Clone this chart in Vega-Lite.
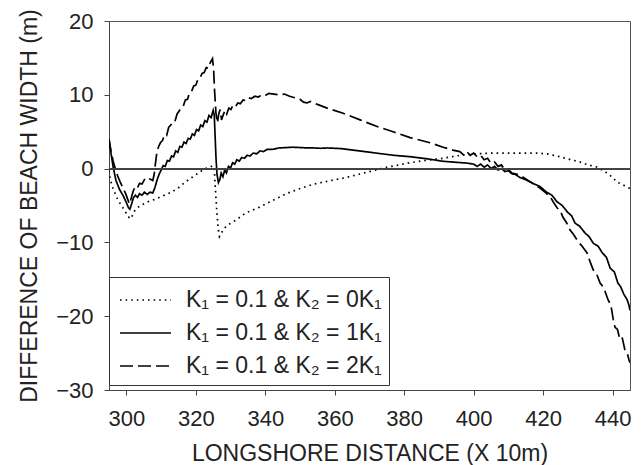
{
  "$schema": "https://vega.github.io/schema/vega-lite/v6.json",
  "width": 521,
  "height": 369,
  "autosize": {"type": "none"},
  "padding": {"left": 109, "top": 21, "right": 13, "bottom": 75},
  "background": "white",
  "config": {
    "font": "Liberation Sans",
    "view": {"stroke": "#555", "strokeWidth": 1},
    "axis": {
      "grid": false,
      "domainColor": "#444",
      "tickColor": "#444",
      "labelColor": "#222",
      "titleColor": "#222",
      "labelFontSize": 22,
      "titleFontSize": 23,
      "titleFontWeight": "normal",
      "labelFont": "Liberation Sans",
      "titleFont": "Liberation Sans"
    },
    "legend": {
      "orient": "none",
      "legendX": 0,
      "legendY": 256,
      "fillColor": "white",
      "strokeColor": "#333",
      "padding": 7,
      "labelFontSize": 23,
      "labelFont": "Liberation Sans",
      "labelColor": "#222",
      "labelLimit": 400,
      "symbolType": "M-0.8,0H2.6",
      "symbolSize": 900,
      "symbolStrokeWidth": 1.6,
      "symbolStrokeColor": "black",
      "symbolFillColor": "transparent",
      "rowPadding": 5,
      "labelOffset": 38,
      "symbolOffset": 0
    }
  },
  "data": {
    "values": [
      {"s": "K₁ = 0.1 & K₂ = 0K₁", "x": 295.0, "y": -0.3},
      {"s": "K₁ = 0.1 & K₂ = 0K₁", "x": 295.4, "y": -1.5},
      {"s": "K₁ = 0.1 & K₂ = 0K₁", "x": 296.0, "y": -2.5},
      {"s": "K₁ = 0.1 & K₂ = 0K₁", "x": 296.7, "y": -3.3},
      {"s": "K₁ = 0.1 & K₂ = 0K₁", "x": 297.5, "y": -4.2},
      {"s": "K₁ = 0.1 & K₂ = 0K₁", "x": 298.3, "y": -4.8},
      {"s": "K₁ = 0.1 & K₂ = 0K₁", "x": 299.0, "y": -5.3},
      {"s": "K₁ = 0.1 & K₂ = 0K₁", "x": 299.8, "y": -5.9},
      {"s": "K₁ = 0.1 & K₂ = 0K₁", "x": 300.5, "y": -6.5},
      {"s": "K₁ = 0.1 & K₂ = 0K₁", "x": 301.2, "y": -6.8},
      {"s": "K₁ = 0.1 & K₂ = 0K₁", "x": 301.8, "y": -6.3},
      {"s": "K₁ = 0.1 & K₂ = 0K₁", "x": 302.5, "y": -5.6},
      {"s": "K₁ = 0.1 & K₂ = 0K₁", "x": 303.5, "y": -5.2},
      {"s": "K₁ = 0.1 & K₂ = 0K₁", "x": 304.5, "y": -4.9},
      {"s": "K₁ = 0.1 & K₂ = 0K₁", "x": 306.2, "y": -4.5},
      {"s": "K₁ = 0.1 & K₂ = 0K₁", "x": 308.0, "y": -4.2},
      {"s": "K₁ = 0.1 & K₂ = 0K₁", "x": 310.0, "y": -3.8},
      {"s": "K₁ = 0.1 & K₂ = 0K₁", "x": 313.0, "y": -3.2},
      {"s": "K₁ = 0.1 & K₂ = 0K₁", "x": 315.0, "y": -2.6},
      {"s": "K₁ = 0.1 & K₂ = 0K₁", "x": 317.0, "y": -1.8},
      {"s": "K₁ = 0.1 & K₂ = 0K₁", "x": 319.8, "y": -0.9},
      {"s": "K₁ = 0.1 & K₂ = 0K₁", "x": 322.6, "y": 0.0},
      {"s": "K₁ = 0.1 & K₂ = 0K₁", "x": 324.0, "y": 0.2},
      {"s": "K₁ = 0.1 & K₂ = 0K₁", "x": 324.8, "y": 0.4},
      {"s": "K₁ = 0.1 & K₂ = 0K₁", "x": 325.3, "y": 0.1},
      {"s": "K₁ = 0.1 & K₂ = 0K₁", "x": 325.6, "y": -2.5},
      {"s": "K₁ = 0.1 & K₂ = 0K₁", "x": 326.0, "y": -5.5},
      {"s": "K₁ = 0.1 & K₂ = 0K₁", "x": 326.4, "y": -8.0},
      {"s": "K₁ = 0.1 & K₂ = 0K₁", "x": 326.8, "y": -9.2},
      {"s": "K₁ = 0.1 & K₂ = 0K₁", "x": 327.2, "y": -8.8},
      {"s": "K₁ = 0.1 & K₂ = 0K₁", "x": 327.8, "y": -8.4},
      {"s": "K₁ = 0.1 & K₂ = 0K₁", "x": 328.6, "y": -7.9},
      {"s": "K₁ = 0.1 & K₂ = 0K₁", "x": 330.0, "y": -7.4},
      {"s": "K₁ = 0.1 & K₂ = 0K₁", "x": 331.5, "y": -7.0},
      {"s": "K₁ = 0.1 & K₂ = 0K₁", "x": 334.4, "y": -6.0},
      {"s": "K₁ = 0.1 & K₂ = 0K₁", "x": 338.5, "y": -5.2},
      {"s": "K₁ = 0.1 & K₂ = 0K₁", "x": 342.2, "y": -4.3},
      {"s": "K₁ = 0.1 & K₂ = 0K₁", "x": 346.0, "y": -3.4},
      {"s": "K₁ = 0.1 & K₂ = 0K₁", "x": 350.0, "y": -2.7},
      {"s": "K₁ = 0.1 & K₂ = 0K₁", "x": 354.0, "y": -2.1},
      {"s": "K₁ = 0.1 & K₂ = 0K₁", "x": 358.0, "y": -1.7},
      {"s": "K₁ = 0.1 & K₂ = 0K₁", "x": 362.4, "y": -1.3},
      {"s": "K₁ = 0.1 & K₂ = 0K₁", "x": 369.3, "y": -0.5},
      {"s": "K₁ = 0.1 & K₂ = 0K₁", "x": 375.1, "y": 0.2},
      {"s": "K₁ = 0.1 & K₂ = 0K₁", "x": 381.7, "y": 0.8},
      {"s": "K₁ = 0.1 & K₂ = 0K₁", "x": 386.0, "y": 1.1},
      {"s": "K₁ = 0.1 & K₂ = 0K₁", "x": 391.2, "y": 1.4},
      {"s": "K₁ = 0.1 & K₂ = 0K₁", "x": 396.1, "y": 1.8},
      {"s": "K₁ = 0.1 & K₂ = 0K₁", "x": 401.0, "y": 2.0},
      {"s": "K₁ = 0.1 & K₂ = 0K₁", "x": 405.6, "y": 2.1},
      {"s": "K₁ = 0.1 & K₂ = 0K₁", "x": 410.5, "y": 2.1},
      {"s": "K₁ = 0.1 & K₂ = 0K₁", "x": 414.2, "y": 2.1},
      {"s": "K₁ = 0.1 & K₂ = 0K₁", "x": 418.0, "y": 2.1},
      {"s": "K₁ = 0.1 & K₂ = 0K₁", "x": 421.1, "y": 2.0},
      {"s": "K₁ = 0.1 & K₂ = 0K₁", "x": 424.9, "y": 1.6},
      {"s": "K₁ = 0.1 & K₂ = 0K₁", "x": 428.0, "y": 1.2},
      {"s": "K₁ = 0.1 & K₂ = 0K₁", "x": 430.6, "y": 0.9},
      {"s": "K₁ = 0.1 & K₂ = 0K₁", "x": 433.0, "y": 0.5},
      {"s": "K₁ = 0.1 & K₂ = 0K₁", "x": 435.5, "y": 0.2},
      {"s": "K₁ = 0.1 & K₂ = 0K₁", "x": 437.0, "y": -0.2},
      {"s": "K₁ = 0.1 & K₂ = 0K₁", "x": 438.4, "y": -0.6},
      {"s": "K₁ = 0.1 & K₂ = 0K₁", "x": 440.0, "y": -1.2},
      {"s": "K₁ = 0.1 & K₂ = 0K₁", "x": 441.2, "y": -1.8},
      {"s": "K₁ = 0.1 & K₂ = 0K₁", "x": 442.5, "y": -2.1},
      {"s": "K₁ = 0.1 & K₂ = 0K₁", "x": 444.2, "y": -2.5},
      {"s": "K₁ = 0.1 & K₂ = 0K₁", "x": 445.0, "y": -2.7},

      {"s": "K₁ = 0.1 & K₂ = 1K₁", "x": 295.0, "y": 4.0},
      {"s": "K₁ = 0.1 & K₂ = 1K₁", "x": 295.6, "y": 2.0},
      {"s": "K₁ = 0.1 & K₂ = 1K₁", "x": 296.2, "y": 0.2},
      {"s": "K₁ = 0.1 & K₂ = 1K₁", "x": 297.0, "y": -1.6},
      {"s": "K₁ = 0.1 & K₂ = 1K₁", "x": 298.0, "y": -2.8},
      {"s": "K₁ = 0.1 & K₂ = 1K₁", "x": 299.0, "y": -3.6},
      {"s": "K₁ = 0.1 & K₂ = 1K₁", "x": 300.0, "y": -4.6},
      {"s": "K₁ = 0.1 & K₂ = 1K₁", "x": 300.6, "y": -5.3},
      {"s": "K₁ = 0.1 & K₂ = 1K₁", "x": 301.0, "y": -5.5},
      {"s": "K₁ = 0.1 & K₂ = 1K₁", "x": 301.5, "y": -4.8},
      {"s": "K₁ = 0.1 & K₂ = 1K₁", "x": 302.0, "y": -4.0},
      {"s": "K₁ = 0.1 & K₂ = 1K₁", "x": 302.6, "y": -3.6},
      {"s": "K₁ = 0.1 & K₂ = 1K₁", "x": 303.2, "y": -3.9},
      {"s": "K₁ = 0.1 & K₂ = 1K₁", "x": 303.8, "y": -3.4},
      {"s": "K₁ = 0.1 & K₂ = 1K₁", "x": 304.5, "y": -3.6},
      {"s": "K₁ = 0.1 & K₂ = 1K₁", "x": 305.2, "y": -3.2},
      {"s": "K₁ = 0.1 & K₂ = 1K₁", "x": 306.0, "y": -3.5},
      {"s": "K₁ = 0.1 & K₂ = 1K₁", "x": 306.8, "y": -3.2},
      {"s": "K₁ = 0.1 & K₂ = 1K₁", "x": 307.6, "y": -3.3},
      {"s": "K₁ = 0.1 & K₂ = 1K₁", "x": 308.2, "y": -2.6},
      {"s": "K₁ = 0.1 & K₂ = 1K₁", "x": 308.8, "y": -1.6},
      {"s": "K₁ = 0.1 & K₂ = 1K₁", "x": 309.4, "y": -0.8},
      {"s": "K₁ = 0.1 & K₂ = 1K₁", "x": 310.0, "y": -0.2},
      {"s": "K₁ = 0.1 & K₂ = 1K₁", "x": 310.6, "y": 0.4},
      {"s": "K₁ = 0.1 & K₂ = 1K₁", "x": 311.2, "y": 0.3},
      {"s": "K₁ = 0.1 & K₂ = 1K₁", "x": 311.8, "y": 1.1},
      {"s": "K₁ = 0.1 & K₂ = 1K₁", "x": 312.4, "y": 1.0},
      {"s": "K₁ = 0.1 & K₂ = 1K₁", "x": 313.0, "y": 1.7},
      {"s": "K₁ = 0.1 & K₂ = 1K₁", "x": 313.6, "y": 1.6},
      {"s": "K₁ = 0.1 & K₂ = 1K₁", "x": 314.2, "y": 2.4},
      {"s": "K₁ = 0.1 & K₂ = 1K₁", "x": 314.8, "y": 2.2},
      {"s": "K₁ = 0.1 & K₂ = 1K₁", "x": 315.4, "y": 3.0},
      {"s": "K₁ = 0.1 & K₂ = 1K₁", "x": 316.0, "y": 2.9},
      {"s": "K₁ = 0.1 & K₂ = 1K₁", "x": 316.6, "y": 3.6},
      {"s": "K₁ = 0.1 & K₂ = 1K₁", "x": 317.2, "y": 3.4},
      {"s": "K₁ = 0.1 & K₂ = 1K₁", "x": 317.8, "y": 4.1},
      {"s": "K₁ = 0.1 & K₂ = 1K₁", "x": 318.4, "y": 4.0},
      {"s": "K₁ = 0.1 & K₂ = 1K₁", "x": 319.0, "y": 4.7},
      {"s": "K₁ = 0.1 & K₂ = 1K₁", "x": 319.6, "y": 4.5},
      {"s": "K₁ = 0.1 & K₂ = 1K₁", "x": 320.2, "y": 5.3},
      {"s": "K₁ = 0.1 & K₂ = 1K₁", "x": 320.8, "y": 5.1},
      {"s": "K₁ = 0.1 & K₂ = 1K₁", "x": 321.4, "y": 5.9},
      {"s": "K₁ = 0.1 & K₂ = 1K₁", "x": 322.0, "y": 5.7},
      {"s": "K₁ = 0.1 & K₂ = 1K₁", "x": 322.6, "y": 6.5},
      {"s": "K₁ = 0.1 & K₂ = 1K₁", "x": 323.2, "y": 6.3},
      {"s": "K₁ = 0.1 & K₂ = 1K₁", "x": 323.8, "y": 7.2},
      {"s": "K₁ = 0.1 & K₂ = 1K₁", "x": 324.4, "y": 6.9},
      {"s": "K₁ = 0.1 & K₂ = 1K₁", "x": 325.0, "y": 7.9},
      {"s": "K₁ = 0.1 & K₂ = 1K₁", "x": 325.3, "y": 7.3},
      {"s": "K₁ = 0.1 & K₂ = 1K₁", "x": 325.5, "y": 5.0},
      {"s": "K₁ = 0.1 & K₂ = 1K₁", "x": 325.8, "y": 1.5},
      {"s": "K₁ = 0.1 & K₂ = 1K₁", "x": 326.1, "y": -0.8},
      {"s": "K₁ = 0.1 & K₂ = 1K₁", "x": 326.5, "y": -1.9},
      {"s": "K₁ = 0.1 & K₂ = 1K₁", "x": 326.9, "y": -1.5},
      {"s": "K₁ = 0.1 & K₂ = 1K₁", "x": 327.3, "y": -0.6},
      {"s": "K₁ = 0.1 & K₂ = 1K₁", "x": 327.8, "y": -1.1},
      {"s": "K₁ = 0.1 & K₂ = 1K₁", "x": 328.3, "y": -0.2},
      {"s": "K₁ = 0.1 & K₂ = 1K₁", "x": 328.8, "y": -0.6},
      {"s": "K₁ = 0.1 & K₂ = 1K₁", "x": 329.4, "y": 0.3},
      {"s": "K₁ = 0.1 & K₂ = 1K₁", "x": 330.0, "y": 0.1},
      {"s": "K₁ = 0.1 & K₂ = 1K₁", "x": 330.6, "y": 0.8},
      {"s": "K₁ = 0.1 & K₂ = 1K₁", "x": 331.2, "y": 0.6},
      {"s": "K₁ = 0.1 & K₂ = 1K₁", "x": 331.8, "y": 1.2},
      {"s": "K₁ = 0.1 & K₂ = 1K₁", "x": 332.5, "y": 1.0},
      {"s": "K₁ = 0.1 & K₂ = 1K₁", "x": 333.2, "y": 1.5},
      {"s": "K₁ = 0.1 & K₂ = 1K₁", "x": 334.0, "y": 1.4},
      {"s": "K₁ = 0.1 & K₂ = 1K₁", "x": 334.8, "y": 1.8},
      {"s": "K₁ = 0.1 & K₂ = 1K₁", "x": 335.6, "y": 1.7},
      {"s": "K₁ = 0.1 & K₂ = 1K₁", "x": 336.5, "y": 2.1},
      {"s": "K₁ = 0.1 & K₂ = 1K₁", "x": 337.5, "y": 2.0},
      {"s": "K₁ = 0.1 & K₂ = 1K₁", "x": 338.5, "y": 2.4},
      {"s": "K₁ = 0.1 & K₂ = 1K₁", "x": 339.5, "y": 2.3},
      {"s": "K₁ = 0.1 & K₂ = 1K₁", "x": 340.5, "y": 2.6},
      {"s": "K₁ = 0.1 & K₂ = 1K₁", "x": 342.0, "y": 2.6},
      {"s": "K₁ = 0.1 & K₂ = 1K₁", "x": 344.0, "y": 2.8},
      {"s": "K₁ = 0.1 & K₂ = 1K₁", "x": 346.0, "y": 2.85},
      {"s": "K₁ = 0.1 & K₂ = 1K₁", "x": 348.0, "y": 2.9},
      {"s": "K₁ = 0.1 & K₂ = 1K₁", "x": 350.0, "y": 2.85},
      {"s": "K₁ = 0.1 & K₂ = 1K₁", "x": 352.0, "y": 2.8},
      {"s": "K₁ = 0.1 & K₂ = 1K₁", "x": 354.0, "y": 2.8},
      {"s": "K₁ = 0.1 & K₂ = 1K₁", "x": 356.0, "y": 2.75},
      {"s": "K₁ = 0.1 & K₂ = 1K₁", "x": 358.0, "y": 2.8},
      {"s": "K₁ = 0.1 & K₂ = 1K₁", "x": 362.0, "y": 2.7},
      {"s": "K₁ = 0.1 & K₂ = 1K₁", "x": 367.0, "y": 2.4},
      {"s": "K₁ = 0.1 & K₂ = 1K₁", "x": 372.0, "y": 2.1},
      {"s": "K₁ = 0.1 & K₂ = 1K₁", "x": 377.0, "y": 1.8},
      {"s": "K₁ = 0.1 & K₂ = 1K₁", "x": 382.0, "y": 1.6},
      {"s": "K₁ = 0.1 & K₂ = 1K₁", "x": 387.0, "y": 1.3},
      {"s": "K₁ = 0.1 & K₂ = 1K₁", "x": 391.0, "y": 1.0},
      {"s": "K₁ = 0.1 & K₂ = 1K₁", "x": 395.0, "y": 0.85},
      {"s": "K₁ = 0.1 & K₂ = 1K₁", "x": 398.0, "y": 0.75},
      {"s": "K₁ = 0.1 & K₂ = 1K₁", "x": 400.0, "y": 0.6},
      {"s": "K₁ = 0.1 & K₂ = 1K₁", "x": 401.0, "y": 0.3},
      {"s": "K₁ = 0.1 & K₂ = 1K₁", "x": 402.0, "y": 0.6},
      {"s": "K₁ = 0.1 & K₂ = 1K₁", "x": 403.0, "y": 0.2},
      {"s": "K₁ = 0.1 & K₂ = 1K₁", "x": 404.0, "y": 0.5},
      {"s": "K₁ = 0.1 & K₂ = 1K₁", "x": 405.0, "y": 0.0},
      {"s": "K₁ = 0.1 & K₂ = 1K₁", "x": 406.0, "y": 0.3},
      {"s": "K₁ = 0.1 & K₂ = 1K₁", "x": 407.0, "y": -0.2},
      {"s": "K₁ = 0.1 & K₂ = 1K₁", "x": 408.0, "y": 0.0},
      {"s": "K₁ = 0.1 & K₂ = 1K₁", "x": 409.0, "y": -0.4},
      {"s": "K₁ = 0.1 & K₂ = 1K₁", "x": 410.0, "y": -0.3},
      {"s": "K₁ = 0.1 & K₂ = 1K₁", "x": 411.0, "y": -0.7},
      {"s": "K₁ = 0.1 & K₂ = 1K₁", "x": 412.0, "y": -0.8},
      {"s": "K₁ = 0.1 & K₂ = 1K₁", "x": 413.3, "y": -1.2},
      {"s": "K₁ = 0.1 & K₂ = 1K₁", "x": 415.0, "y": -1.5},
      {"s": "K₁ = 0.1 & K₂ = 1K₁", "x": 417.0, "y": -2.0},
      {"s": "K₁ = 0.1 & K₂ = 1K₁", "x": 419.0, "y": -2.4},
      {"s": "K₁ = 0.1 & K₂ = 1K₁", "x": 421.0, "y": -3.2},
      {"s": "K₁ = 0.1 & K₂ = 1K₁", "x": 422.5, "y": -3.6},
      {"s": "K₁ = 0.1 & K₂ = 1K₁", "x": 424.0, "y": -4.5},
      {"s": "K₁ = 0.1 & K₂ = 1K₁", "x": 425.5, "y": -5.0},
      {"s": "K₁ = 0.1 & K₂ = 1K₁", "x": 427.0, "y": -5.9},
      {"s": "K₁ = 0.1 & K₂ = 1K₁", "x": 428.2, "y": -6.4},
      {"s": "K₁ = 0.1 & K₂ = 1K₁", "x": 429.2, "y": -7.4},
      {"s": "K₁ = 0.1 & K₂ = 1K₁", "x": 430.5, "y": -7.8},
      {"s": "K₁ = 0.1 & K₂ = 1K₁", "x": 432.0, "y": -8.7},
      {"s": "K₁ = 0.1 & K₂ = 1K₁", "x": 433.2, "y": -9.2},
      {"s": "K₁ = 0.1 & K₂ = 1K₁", "x": 434.4, "y": -10.1},
      {"s": "K₁ = 0.1 & K₂ = 1K₁", "x": 435.8, "y": -10.5},
      {"s": "K₁ = 0.1 & K₂ = 1K₁", "x": 437.0, "y": -11.4},
      {"s": "K₁ = 0.1 & K₂ = 1K₁", "x": 438.2, "y": -12.0},
      {"s": "K₁ = 0.1 & K₂ = 1K₁", "x": 439.3, "y": -13.5},
      {"s": "K₁ = 0.1 & K₂ = 1K₁", "x": 440.5, "y": -14.0},
      {"s": "K₁ = 0.1 & K₂ = 1K₁", "x": 441.5, "y": -15.5},
      {"s": "K₁ = 0.1 & K₂ = 1K₁", "x": 442.3, "y": -16.0},
      {"s": "K₁ = 0.1 & K₂ = 1K₁", "x": 443.2, "y": -17.0},
      {"s": "K₁ = 0.1 & K₂ = 1K₁", "x": 444.2, "y": -17.8},
      {"s": "K₁ = 0.1 & K₂ = 1K₁", "x": 444.7, "y": -18.5},
      {"s": "K₁ = 0.1 & K₂ = 1K₁", "x": 445.0, "y": -19.2},

      {"s": "K₁ = 0.1 & K₂ = 2K₁", "x": 295.0, "y": 4.0},
      {"s": "K₁ = 0.1 & K₂ = 2K₁", "x": 295.6, "y": 2.3},
      {"s": "K₁ = 0.1 & K₂ = 2K₁", "x": 296.2, "y": 1.0},
      {"s": "K₁ = 0.1 & K₂ = 2K₁", "x": 296.8, "y": 0.0},
      {"s": "K₁ = 0.1 & K₂ = 2K₁", "x": 297.5, "y": -1.0},
      {"s": "K₁ = 0.1 & K₂ = 2K₁", "x": 298.2, "y": -1.8},
      {"s": "K₁ = 0.1 & K₂ = 2K₁", "x": 299.0, "y": -2.6},
      {"s": "K₁ = 0.1 & K₂ = 2K₁", "x": 299.8, "y": -3.4},
      {"s": "K₁ = 0.1 & K₂ = 2K₁", "x": 300.5, "y": -4.3},
      {"s": "K₁ = 0.1 & K₂ = 2K₁", "x": 300.9, "y": -4.8},
      {"s": "K₁ = 0.1 & K₂ = 2K₁", "x": 301.4, "y": -4.0},
      {"s": "K₁ = 0.1 & K₂ = 2K₁", "x": 302.0, "y": -3.0},
      {"s": "K₁ = 0.1 & K₂ = 2K₁", "x": 302.6, "y": -2.4},
      {"s": "K₁ = 0.1 & K₂ = 2K₁", "x": 303.2, "y": -2.6},
      {"s": "K₁ = 0.1 & K₂ = 2K₁", "x": 303.8, "y": -2.0},
      {"s": "K₁ = 0.1 & K₂ = 2K₁", "x": 304.5, "y": -2.1},
      {"s": "K₁ = 0.1 & K₂ = 2K₁", "x": 305.2, "y": -1.5},
      {"s": "K₁ = 0.1 & K₂ = 2K₁", "x": 306.0, "y": -1.7},
      {"s": "K₁ = 0.1 & K₂ = 2K₁", "x": 306.8, "y": -1.4},
      {"s": "K₁ = 0.1 & K₂ = 2K₁", "x": 307.6, "y": -1.6},
      {"s": "K₁ = 0.1 & K₂ = 2K₁", "x": 308.0, "y": -0.8},
      {"s": "K₁ = 0.1 & K₂ = 2K₁", "x": 308.4, "y": 0.8},
      {"s": "K₁ = 0.1 & K₂ = 2K₁", "x": 308.8, "y": 2.3},
      {"s": "K₁ = 0.1 & K₂ = 2K₁", "x": 309.3, "y": 3.0},
      {"s": "K₁ = 0.1 & K₂ = 2K₁", "x": 309.8, "y": 3.5},
      {"s": "K₁ = 0.1 & K₂ = 2K₁", "x": 310.4, "y": 3.8},
      {"s": "K₁ = 0.1 & K₂ = 2K₁", "x": 311.0, "y": 4.6},
      {"s": "K₁ = 0.1 & K₂ = 2K₁", "x": 311.6, "y": 4.5},
      {"s": "K₁ = 0.1 & K₂ = 2K₁", "x": 312.2, "y": 5.6},
      {"s": "K₁ = 0.1 & K₂ = 2K₁", "x": 312.8, "y": 5.9},
      {"s": "K₁ = 0.1 & K₂ = 2K₁", "x": 313.4, "y": 6.4},
      {"s": "K₁ = 0.1 & K₂ = 2K₁", "x": 314.0, "y": 6.4},
      {"s": "K₁ = 0.1 & K₂ = 2K₁", "x": 314.6, "y": 7.4},
      {"s": "K₁ = 0.1 & K₂ = 2K₁", "x": 315.2, "y": 7.8},
      {"s": "K₁ = 0.1 & K₂ = 2K₁", "x": 315.8, "y": 8.3},
      {"s": "K₁ = 0.1 & K₂ = 2K₁", "x": 316.4, "y": 8.5},
      {"s": "K₁ = 0.1 & K₂ = 2K₁", "x": 317.0, "y": 9.3},
      {"s": "K₁ = 0.1 & K₂ = 2K₁", "x": 317.6, "y": 9.4},
      {"s": "K₁ = 0.1 & K₂ = 2K₁", "x": 318.2, "y": 10.3},
      {"s": "K₁ = 0.1 & K₂ = 2K₁", "x": 318.8, "y": 10.5},
      {"s": "K₁ = 0.1 & K₂ = 2K₁", "x": 319.4, "y": 11.2},
      {"s": "K₁ = 0.1 & K₂ = 2K₁", "x": 320.0, "y": 11.3},
      {"s": "K₁ = 0.1 & K₂ = 2K₁", "x": 320.6, "y": 12.1},
      {"s": "K₁ = 0.1 & K₂ = 2K₁", "x": 321.2, "y": 12.3},
      {"s": "K₁ = 0.1 & K₂ = 2K₁", "x": 321.8, "y": 12.9},
      {"s": "K₁ = 0.1 & K₂ = 2K₁", "x": 322.4, "y": 13.0},
      {"s": "K₁ = 0.1 & K₂ = 2K₁", "x": 323.0, "y": 13.7},
      {"s": "K₁ = 0.1 & K₂ = 2K₁", "x": 323.6, "y": 13.6},
      {"s": "K₁ = 0.1 & K₂ = 2K₁", "x": 324.2, "y": 14.4},
      {"s": "K₁ = 0.1 & K₂ = 2K₁", "x": 324.8, "y": 14.9},
      {"s": "K₁ = 0.1 & K₂ = 2K₁", "x": 325.1, "y": 13.6},
      {"s": "K₁ = 0.1 & K₂ = 2K₁", "x": 325.4, "y": 10.5},
      {"s": "K₁ = 0.1 & K₂ = 2K₁", "x": 325.8, "y": 7.5},
      {"s": "K₁ = 0.1 & K₂ = 2K₁", "x": 326.2, "y": 6.2},
      {"s": "K₁ = 0.1 & K₂ = 2K₁", "x": 326.6, "y": 7.4},
      {"s": "K₁ = 0.1 & K₂ = 2K₁", "x": 327.0, "y": 8.0},
      {"s": "K₁ = 0.1 & K₂ = 2K₁", "x": 327.4, "y": 6.6},
      {"s": "K₁ = 0.1 & K₂ = 2K₁", "x": 327.9, "y": 7.3},
      {"s": "K₁ = 0.1 & K₂ = 2K₁", "x": 328.4, "y": 7.9},
      {"s": "K₁ = 0.1 & K₂ = 2K₁", "x": 328.9, "y": 7.4},
      {"s": "K₁ = 0.1 & K₂ = 2K₁", "x": 329.5, "y": 8.2},
      {"s": "K₁ = 0.1 & K₂ = 2K₁", "x": 330.1, "y": 8.0},
      {"s": "K₁ = 0.1 & K₂ = 2K₁", "x": 330.7, "y": 8.6},
      {"s": "K₁ = 0.1 & K₂ = 2K₁", "x": 331.4, "y": 8.4},
      {"s": "K₁ = 0.1 & K₂ = 2K₁", "x": 332.1, "y": 8.9},
      {"s": "K₁ = 0.1 & K₂ = 2K₁", "x": 332.8, "y": 8.8},
      {"s": "K₁ = 0.1 & K₂ = 2K₁", "x": 333.6, "y": 9.3},
      {"s": "K₁ = 0.1 & K₂ = 2K₁", "x": 334.4, "y": 9.2},
      {"s": "K₁ = 0.1 & K₂ = 2K₁", "x": 335.2, "y": 9.6},
      {"s": "K₁ = 0.1 & K₂ = 2K₁", "x": 336.0, "y": 9.5},
      {"s": "K₁ = 0.1 & K₂ = 2K₁", "x": 337.0, "y": 9.8},
      {"s": "K₁ = 0.1 & K₂ = 2K₁", "x": 338.0, "y": 9.7},
      {"s": "K₁ = 0.1 & K₂ = 2K₁", "x": 339.0, "y": 10.0},
      {"s": "K₁ = 0.1 & K₂ = 2K₁", "x": 340.0, "y": 9.9},
      {"s": "K₁ = 0.1 & K₂ = 2K₁", "x": 341.0, "y": 10.2},
      {"s": "K₁ = 0.1 & K₂ = 2K₁", "x": 342.5, "y": 10.1},
      {"s": "K₁ = 0.1 & K₂ = 2K₁", "x": 344.0, "y": 10.0},
      {"s": "K₁ = 0.1 & K₂ = 2K₁", "x": 345.5, "y": 10.1},
      {"s": "K₁ = 0.1 & K₂ = 2K₁", "x": 347.0, "y": 9.8},
      {"s": "K₁ = 0.1 & K₂ = 2K₁", "x": 348.5, "y": 9.6},
      {"s": "K₁ = 0.1 & K₂ = 2K₁", "x": 350.0, "y": 9.4},
      {"s": "K₁ = 0.1 & K₂ = 2K₁", "x": 351.0, "y": 9.0},
      {"s": "K₁ = 0.1 & K₂ = 2K₁", "x": 352.0, "y": 8.9},
      {"s": "K₁ = 0.1 & K₂ = 2K₁", "x": 353.0, "y": 9.1},
      {"s": "K₁ = 0.1 & K₂ = 2K₁", "x": 355.0, "y": 8.7},
      {"s": "K₁ = 0.1 & K₂ = 2K₁", "x": 357.8, "y": 8.2},
      {"s": "K₁ = 0.1 & K₂ = 2K₁", "x": 362.4, "y": 7.5},
      {"s": "K₁ = 0.1 & K₂ = 2K₁", "x": 367.3, "y": 6.6},
      {"s": "K₁ = 0.1 & K₂ = 2K₁", "x": 372.2, "y": 5.7},
      {"s": "K₁ = 0.1 & K₂ = 2K₁", "x": 376.8, "y": 5.0},
      {"s": "K₁ = 0.1 & K₂ = 2K₁", "x": 381.7, "y": 4.2},
      {"s": "K₁ = 0.1 & K₂ = 2K₁", "x": 387.4, "y": 3.5},
      {"s": "K₁ = 0.1 & K₂ = 2K₁", "x": 391.2, "y": 2.9},
      {"s": "K₁ = 0.1 & K₂ = 2K₁", "x": 394.0, "y": 2.5},
      {"s": "K₁ = 0.1 & K₂ = 2K₁", "x": 396.0, "y": 2.3},
      {"s": "K₁ = 0.1 & K₂ = 2K₁", "x": 397.0, "y": 1.9},
      {"s": "K₁ = 0.1 & K₂ = 2K₁", "x": 398.0, "y": 2.3},
      {"s": "K₁ = 0.1 & K₂ = 2K₁", "x": 399.0, "y": 1.8},
      {"s": "K₁ = 0.1 & K₂ = 2K₁", "x": 400.0, "y": 2.1},
      {"s": "K₁ = 0.1 & K₂ = 2K₁", "x": 401.0, "y": 1.6},
      {"s": "K₁ = 0.1 & K₂ = 2K₁", "x": 402.0, "y": 1.8},
      {"s": "K₁ = 0.1 & K₂ = 2K₁", "x": 403.0, "y": 1.2},
      {"s": "K₁ = 0.1 & K₂ = 2K₁", "x": 404.0, "y": 1.4},
      {"s": "K₁ = 0.1 & K₂ = 2K₁", "x": 405.0, "y": 0.7},
      {"s": "K₁ = 0.1 & K₂ = 2K₁", "x": 406.0, "y": 0.9},
      {"s": "K₁ = 0.1 & K₂ = 2K₁", "x": 407.0, "y": 0.3},
      {"s": "K₁ = 0.1 & K₂ = 2K₁", "x": 408.0, "y": 0.5},
      {"s": "K₁ = 0.1 & K₂ = 2K₁", "x": 409.0, "y": -0.2},
      {"s": "K₁ = 0.1 & K₂ = 2K₁", "x": 410.0, "y": -0.1},
      {"s": "K₁ = 0.1 & K₂ = 2K₁", "x": 411.0, "y": -0.6},
      {"s": "K₁ = 0.1 & K₂ = 2K₁", "x": 412.0, "y": -0.7},
      {"s": "K₁ = 0.1 & K₂ = 2K₁", "x": 413.3, "y": -0.9},
      {"s": "K₁ = 0.1 & K₂ = 2K₁", "x": 415.0, "y": -1.4},
      {"s": "K₁ = 0.1 & K₂ = 2K₁", "x": 417.0, "y": -2.0},
      {"s": "K₁ = 0.1 & K₂ = 2K₁", "x": 419.0, "y": -2.6},
      {"s": "K₁ = 0.1 & K₂ = 2K₁", "x": 420.5, "y": -3.2},
      {"s": "K₁ = 0.1 & K₂ = 2K₁", "x": 422.0, "y": -3.8},
      {"s": "K₁ = 0.1 & K₂ = 2K₁", "x": 423.0, "y": -4.6},
      {"s": "K₁ = 0.1 & K₂ = 2K₁", "x": 424.0, "y": -5.3},
      {"s": "K₁ = 0.1 & K₂ = 2K₁", "x": 425.0, "y": -5.8},
      {"s": "K₁ = 0.1 & K₂ = 2K₁", "x": 425.7, "y": -6.6},
      {"s": "K₁ = 0.1 & K₂ = 2K₁", "x": 426.7, "y": -7.3},
      {"s": "K₁ = 0.1 & K₂ = 2K₁", "x": 427.7, "y": -8.3},
      {"s": "K₁ = 0.1 & K₂ = 2K₁", "x": 428.7, "y": -8.9},
      {"s": "K₁ = 0.1 & K₂ = 2K₁", "x": 429.8, "y": -9.7},
      {"s": "K₁ = 0.1 & K₂ = 2K₁", "x": 431.0, "y": -10.4},
      {"s": "K₁ = 0.1 & K₂ = 2K₁", "x": 432.6, "y": -11.4},
      {"s": "K₁ = 0.1 & K₂ = 2K₁", "x": 433.5, "y": -12.6},
      {"s": "K₁ = 0.1 & K₂ = 2K₁", "x": 434.4, "y": -13.7},
      {"s": "K₁ = 0.1 & K₂ = 2K₁", "x": 435.4, "y": -14.3},
      {"s": "K₁ = 0.1 & K₂ = 2K₁", "x": 436.4, "y": -15.5},
      {"s": "K₁ = 0.1 & K₂ = 2K₁", "x": 437.5, "y": -16.2},
      {"s": "K₁ = 0.1 & K₂ = 2K₁", "x": 438.7, "y": -17.8},
      {"s": "K₁ = 0.1 & K₂ = 2K₁", "x": 439.5, "y": -18.5},
      {"s": "K₁ = 0.1 & K₂ = 2K₁", "x": 440.2, "y": -20.5},
      {"s": "K₁ = 0.1 & K₂ = 2K₁", "x": 440.7, "y": -21.5},
      {"s": "K₁ = 0.1 & K₂ = 2K₁", "x": 441.4, "y": -21.8},
      {"s": "K₁ = 0.1 & K₂ = 2K₁", "x": 442.1, "y": -23.2},
      {"s": "K₁ = 0.1 & K₂ = 2K₁", "x": 442.8, "y": -23.0},
      {"s": "K₁ = 0.1 & K₂ = 2K₁", "x": 443.5, "y": -24.5},
      {"s": "K₁ = 0.1 & K₂ = 2K₁", "x": 444.2, "y": -25.0},
      {"s": "K₁ = 0.1 & K₂ = 2K₁", "x": 444.7, "y": -25.9},
      {"s": "K₁ = 0.1 & K₂ = 2K₁", "x": 445.0, "y": -26.3}
    ]
  },
  "layer": [
    {
      "mark": {"type": "line", "color": "black", "strokeWidth": 1.7, "clip": true},
      "encoding": {
        "x": {
          "field": "x",
          "type": "quantitative",
          "scale": {"domain": [295, 445], "nice": false, "zero": false},
          "axis": {
            "values": [300, 320, 340, 360, 380, 400, 420, 440],
            "title": "LONGSHORE DISTANCE (X 10m)",
            "tickSize": 5,
            "labelPadding": 13,
            "titlePadding": 13
          }
        },
        "y": {
          "field": "y",
          "type": "quantitative",
          "scale": {"domain": [-30, 20], "nice": false, "zero": false},
          "axis": {
            "values": [-30, -20, -10, 0, 10, 20],
            "title": "DIFFERENCE OF BEACH WIDTH (m)",
            "tickSize": 5,
            "labelPadding": 11,
            "titlePadding": 14
          }
        },
        "strokeDash": {
          "field": "s",
          "type": "nominal",
          "scale": {
            "domain": ["K₁ = 0.1 & K₂ = 0K₁", "K₁ = 0.1 & K₂ = 1K₁", "K₁ = 0.1 & K₂ = 2K₁"],
            "range": [[1.6, 4], [1, 0], [13, 5]]
          },
          "legend": {"title": null}
        }
      }
    },
    {
      "mark": {"type": "rule", "color": "#444", "strokeWidth": 1},
      "encoding": {"y": {"datum": 0, "type": "quantitative"}}
    }
  ]
}
